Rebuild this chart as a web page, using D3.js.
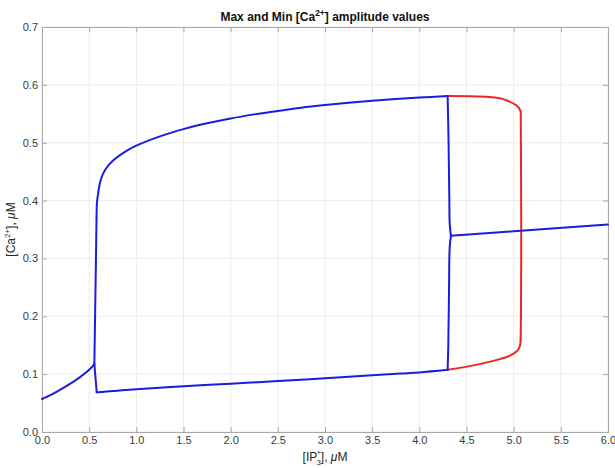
<!DOCTYPE html>
<html>
<head>
<meta charset="utf-8">
<script src="https://cdn.jsdelivr.net/npm/d3@7"></script>
<style>
body { margin: 0; background: #fff; }
text { font-family: "Liberation Sans", Arial, sans-serif; }
</style>
</head>
<body>
<div id="chart"></div>
<script>
var width = 615;
var height = 468;
var margin = {top: 27, right: 7, bottom: 36, left: 42};

// tick values
var xTicks = [0, 0.5, 1, 1.5, 2, 2.5, 3, 3.5, 4, 4.5, 5, 5.5, 6];
var yTicks = [0, 0.1, 0.2, 0.3, 0.4, 0.5, 0.6, 0.7];

// [IP3] , [Ca] pairs
var lowBranch = [[0, 0.057], [0.1, 0.0645], [0.2, 0.0735], [0.3, 0.0835], [0.4, 0.0945], [0.5, 0.1075], [0.555, 0.1175]];
var dropLine = [[0.555, 0.1175], [0.58, 0.0686]];
var minBlue = [[0.58, 0.0686], [0.63, 0.069], [0.8, 0.0715], [1.0, 0.074], [1.5, 0.079], [2.0, 0.0835], [2.5, 0.088], [3.0, 0.093], [3.5, 0.098], [3.8, 0.101], [4.0, 0.103], [4.3, 0.1075]];
var riseLine = [[0.555, 0.1175], [0.572, 0.3], [0.578, 0.37]];
var maxBlue = [[0.578, 0.37], [0.582, 0.395], [0.59, 0.407], [0.622, 0.4355], [0.668, 0.453], [0.756, 0.4695], [0.9, 0.4865], [1.0, 0.495], [1.25, 0.511], [1.5, 0.5235], [1.75, 0.5335], [2.0, 0.542], [2.25, 0.549], [2.5, 0.555], [2.75, 0.5605], [3.0, 0.565], [3.25, 0.569], [3.5, 0.5725], [3.75, 0.5755], [4.0, 0.578], [4.3, 0.5807]];
var upperDrop = [[4.3, 0.5807], [4.31, 0.5], [4.318, 0.4], [4.322, 0.36], [4.335, 0.339]];
var lowerRise = [[4.335, 0.339], [4.322, 0.32], [4.315, 0.25], [4.307, 0.15], [4.3, 0.1075]];
var steadyBlue = [[4.335, 0.339], [5.0, 0.347], [6.0, 0.3586]];
var redMax = [[4.3, 0.5807], [4.6, 0.58], [4.855, 0.5767], [4.95, 0.5715], [5.02, 0.5655], [5.06, 0.559], [5.075, 0.553]];
var redSide = [[5.075, 0.553], [5.078, 0.45], [5.08, 0.35], [5.078, 0.22], [5.074, 0.16]];
var redMin = [[5.074, 0.16], [5.068, 0.15], [5.05, 0.143], [5.03, 0.139], [4.95, 0.131], [4.855, 0.126], [4.6, 0.116], [4.3, 0.1075]];

var blue = "#1c1ce0";
var red = "#ee2424";

var svg = d3.select("#chart").append("svg")
	.attr("width", width)
	.attr("height", height);

var x = d3.scaleLinear().domain([0, 6]).range([margin.left, width - margin.right]);
var y = d3.scaleLinear().domain([0, 0.7]).range([height - margin.bottom, margin.top]);

// grid
svg.append("g").selectAll("line").data(xTicks).enter().append("line")
	.attr("x1", function(d){ return x(d); }).attr("x2", function(d){ return x(d); })
	.attr("y1", y(0)).attr("y2", y(0.7))
	.attr("stroke", "#ececec").attr("stroke-width", 1);
svg.append("g").selectAll("line").data(yTicks).enter().append("line")
	.attr("y1", function(d){ return y(d); }).attr("y2", function(d){ return y(d); })
	.attr("x1", x(0)).attr("x2", x(6))
	.attr("stroke", "#ececec").attr("stroke-width", 1);

// axes (ticks inside, box on)
var axisColor = "#a8a8a8";
var fmt = d3.format(".1f");
function styleAxis(g) {
	g.select(".domain").attr("stroke", axisColor);
	g.selectAll(".tick line").attr("stroke", axisColor);
	g.selectAll(".tick text").attr("fill", "#3a3a3a").style("font-size", "11px")
		.style("font-family", "'Liberation Sans', Arial, sans-serif");
}
svg.append("g").attr("transform", "translate(0," + y(0) + ")")
	.call(d3.axisBottom(x).tickValues(xTicks).tickFormat(fmt).tickSizeInner(-5).tickSizeOuter(0).tickPadding(4))
	.call(styleAxis);
svg.append("g").attr("transform", "translate(" + x(0) + ",0)")
	.call(d3.axisLeft(y).tickValues(yTicks).tickFormat(fmt).tickSizeInner(-5).tickSizeOuter(0).tickPadding(4))
	.call(styleAxis);
svg.append("g").attr("transform", "translate(0," + y(0.7) + ")")
	.call(d3.axisTop(x).tickValues(xTicks).tickFormat("").tickSizeInner(-5).tickSizeOuter(0))
	.call(styleAxis);
svg.append("g").attr("transform", "translate(" + x(6) + ",0)")
	.call(d3.axisRight(y).tickValues(yTicks).tickFormat("").tickSizeInner(-5).tickSizeOuter(0))
	.call(styleAxis);

// curves
var smooth = d3.line().x(function(d){ return x(d[0]); }).y(function(d){ return y(d[1]); })
	.curve(d3.curveCatmullRom.alpha(0.5));
var straight = d3.line().x(function(d){ return x(d[0]); }).y(function(d){ return y(d[1]); });

var pieces = [
	{pts: lowBranch, c: blue, f: smooth},
	{pts: dropLine, c: blue, f: straight},
	{pts: minBlue, c: blue, f: smooth},
	{pts: riseLine, c: blue, f: straight},
	{pts: maxBlue, c: blue, f: smooth},
	{pts: redMax, c: red, f: smooth},
	{pts: redSide, c: red, f: smooth},
	{pts: redMin, c: red, f: smooth},
	{pts: upperDrop, c: blue, f: smooth},
	{pts: lowerRise, c: blue, f: smooth},
	{pts: steadyBlue, c: blue, f: straight}
];
svg.append("g").selectAll("path").data(pieces).enter().append("path")
	.attr("d", function(d){ return d.f(d.pts); })
	.attr("fill", "none")
	.attr("stroke", function(d){ return d.c; })
	.attr("stroke-width", 2)
	.attr("stroke-linejoin", "round")
	.attr("stroke-linecap", "round");

// title
var title = svg.append("text")
	.attr("x", (x(0) + x(6)) / 2)
	.attr("y", 21)
	.attr("text-anchor", "middle")
	.style("font-size", "12px")
	.style("font-weight", "bold")
	.attr("fill", "#111");
title.append("tspan").text("Max and Min [Ca");
title.append("tspan").text("2+").attr("dy", -5).style("font-size", "8.5px");
title.append("tspan").text("] amplitude values").attr("dy", 5);

// x label
var xl = svg.append("text")
	.attr("x", (x(0) + x(6)) / 2)
	.attr("y", 461)
	.attr("text-anchor", "middle")
	.style("font-size", "12px")
	.attr("fill", "#262626");
xl.append("tspan").text("[IP");
xl.append("tspan").text("*").attr("dy", -5).style("font-size", "8px");
xl.append("tspan").text("3").attr("dx", -4).attr("dy", 9).style("font-size", "8px");
xl.append("tspan").text("], ").attr("dy", -4);
xl.append("tspan").text("μ").style("font-style", "italic");
xl.append("tspan").text("M");

// y label
var yl = svg.append("text")
	.attr("transform", "translate(15," + ((y(0) + y(0.7)) / 2) + ") rotate(-90)")
	.attr("text-anchor", "middle")
	.style("font-size", "12px")
	.attr("fill", "#262626");
yl.append("tspan").text("[Ca");
yl.append("tspan").text("2+").attr("dy", -5).style("font-size", "8px");
yl.append("tspan").text("], ").attr("dy", 5);
yl.append("tspan").text("μ").style("font-style", "italic");
yl.append("tspan").text("M");
</script>
</body>
</html>
